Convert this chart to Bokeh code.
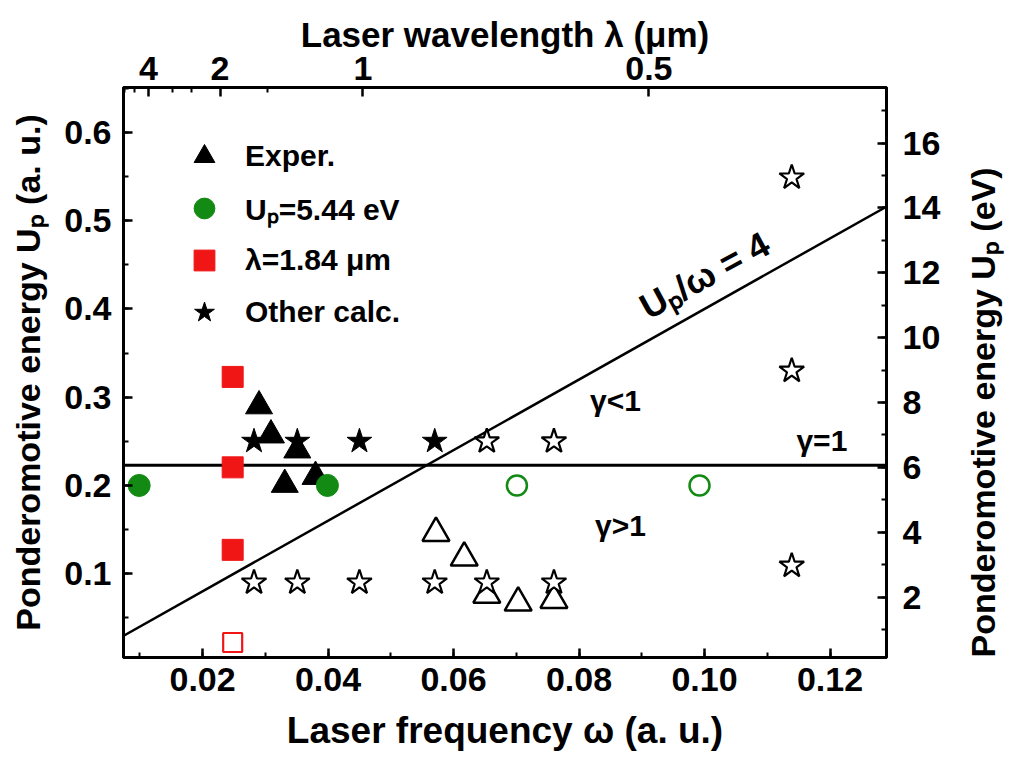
import math
from bokeh.plotting import figure
from bokeh.models import (Range1d, LinearAxis, FixedTicker, SingleIntervalTicker,
                          NumeralTickFormatter, CustomJSTickFormatter, Legend, LegendItem,
                          Span, Slope)
from bokeh.core.properties import value
from bokeh.embed import file_html
from bokeh.resources import INLINE

# ---------------- data ----------------
# experimental points (filled black triangles)
exp_omega = [0.0290, 0.0309, 0.0351, 0.0331, 0.0380]
exp_up = [0.290, 0.257, 0.240, 0.201, 0.210]
# open black triangles
tri_open_omega = [0.0572, 0.0617, 0.0653, 0.0703, 0.0760]
tri_open_up = [0.146, 0.118, 0.076, 0.067, 0.070]
# Up = 5.44 eV (green circles)
green_filled_omega = [0.0099, 0.0399]
green_filled_up = [0.200, 0.200]
green_open_omega = [0.0701, 0.0992]
green_open_up = [0.200, 0.200]
# lambda = 1.84 um (red squares)
red_filled_omega = [0.0248, 0.0248, 0.0248]
red_filled_up = [0.323, 0.2205, 0.127]
red_open_omega = [0.0248]
red_open_up = [0.022]
# other calculations (stars)
star_filled_omega = [0.0282, 0.0351, 0.0450, 0.0570]
star_filled_up = [0.25, 0.25, 0.25, 0.25]
star_open_omega = [0.0653, 0.0760, 0.0282, 0.0351, 0.0450, 0.0570, 0.0653, 0.0760,
                   0.1139, 0.1139, 0.1139]
star_open_up = [0.25, 0.25, 0.09, 0.09, 0.09, 0.09, 0.09, 0.09, 0.549, 0.330, 0.109]

# reference lines
gamma1_up = 0.223          # gamma = 1
up_over_omega = 4          # Up / omega = 4

# top axis: wavelength ticks (um)
lambda_major = [4, 2, 1, 0.5]
lambda_minor = [6, 5, 3, 2.5, 1.5]
OMEGA_TIMES_UM = 0.0455634  # omega (a.u.) * lambda (um)
HARTREE_EV = 27.2114

legend_labels = ["Exper.", "U\u209a=5.44 eV", "\u03bb=1.84 \u03bcm", "Other calc."]
region_texts = ["\u03b3<1", "\u03b3>1", "\u03b3=1"]
region_x = [0.0858, 0.0866, 0.1187]
region_y = [0.296, 0.155, 0.251]
slope_text = ["U\u209a/\u03c9 = 4"]
slope_text_x = [0.1000]
slope_text_y = [0.438]

# ---------------- figure ----------------
FONT = "Liberation Sans"
GREEN = "#138a13"
RED = "#f01616"
X0, X1 = 0.0074, 0.129
Y0, Y1 = 0.005, 0.651

p = figure(width=1024, height=765, x_range=Range1d(X0, X1), y_range=Range1d(Y0, Y1),
           output_backend="svg", toolbar_location=None,
           x_axis_location=None, y_axis_location=None,
           min_border_left=123, min_border_right=137, min_border_top=87, min_border_bottom=108,
           background_fill_color="white", border_fill_color="white",
           outline_line_color="black", outline_line_width=3)
p.xgrid.visible = False
p.ygrid.visible = False
p.extra_y_ranges = {"ev": Range1d(Y0 * HARTREE_EV, Y1 * HARTREE_EV)}


def style(ax, label_size="34px", title_size="34px"):
    ax.axis_line_width = 3
    ax.axis_line_color = "black"
    ax.major_tick_in = 9
    ax.major_tick_out = 0
    ax.minor_tick_in = 5
    ax.minor_tick_out = 0
    ax.major_tick_line_width = 2.5
    ax.minor_tick_line_width = 2
    ax.major_label_text_font = FONT
    ax.major_label_text_font_style = "bold"
    ax.major_label_text_font_size = label_size
    ax.major_label_text_color = "black"
    ax.axis_label_text_font = FONT
    ax.axis_label_text_font_style = "bold"
    ax.axis_label_text_font_size = title_size
    ax.axis_label_text_color = "black"


bottom = LinearAxis(ticker=SingleIntervalTicker(interval=0.02, num_minor_ticks=2),
                    formatter=NumeralTickFormatter(format="0.00"),
                    axis_label="Laser frequency \u03c9 (a. u.)")
style(bottom, title_size="37px")
bottom.major_label_standoff = 10
bottom.axis_label_standoff = 16
p.add_layout(bottom, "below")

left = LinearAxis(ticker=SingleIntervalTicker(interval=0.1, num_minor_ticks=2),
                  formatter=NumeralTickFormatter(format="0.0"),
                  axis_label="Ponderomotive energy U\u209a (a. u.)")
style(left)
left.major_label_standoff = 12
left.axis_label_standoff = 14
p.add_layout(left, "left")

right = LinearAxis(y_range_name="ev",
                   ticker=SingleIntervalTicker(interval=2, num_minor_ticks=2),
                   axis_label="Ponderomotive energy U\u209a (eV)")
style(right)
right.major_label_standoff = 16
right.axis_label_standoff = 40
right.axis_label_orientation = math.pi / 2   # read bottom-to-top, like the reference
right.axis_label_align = "start"
p.add_layout(right, "right")

top = LinearAxis(ticker=FixedTicker(ticks=[OMEGA_TIMES_UM / l for l in lambda_major],
                                    minor_ticks=[OMEGA_TIMES_UM / l for l in lambda_minor]),
                 formatter=CustomJSTickFormatter(args=dict(k=OMEGA_TIMES_UM),
                                                 code="return String(Math.round(k / tick * 10) / 10);"),
                 axis_label="Laser wavelength \u03bb (\u03bcm)")
style(top, label_size="34px", title_size="35px")
top.major_label_standoff = 8
top.axis_label_standoff = 0
p.add_layout(top, "above")

# reference lines (under the markers)
p.add_layout(Span(location=gamma1_up, dimension="width", line_color="black",
                  line_width=3, level="underlay"))
p.add_layout(Slope(gradient=up_over_omega, y_intercept=0, line_color="black",
                   line_width=2.5, level="underlay"))

# markers
p.scatter(tri_open_omega, tri_open_up, marker="triangle", size=27,
          fill_color="white", line_color="black", line_width=2.5)
p.scatter(star_open_omega, star_open_up, marker="star", size=26,
          fill_color="white", line_color="black", line_width=2.2)
r_star = p.scatter(star_filled_omega, star_filled_up, marker="star", size=26,
                   fill_color="black", line_color="black")
r_exp = p.scatter(exp_omega, exp_up, marker="triangle", size=27,
                  fill_color="black", line_color="black")
r_green = p.scatter(green_filled_omega, green_filled_up, marker="circle", size=22,
                    fill_color=GREEN, line_color=GREEN)
p.scatter(green_open_omega, green_open_up, marker="circle", size=20,
          fill_color="white", line_color=GREEN, line_width=2.5)
r_red = p.scatter(red_filled_omega, red_filled_up, marker="square", size=21,
                  fill_color=RED, line_color=RED)
p.scatter(red_open_omega, red_open_up, marker="square", size=19,
          fill_color="white", line_color=RED, line_width=2.2)

# region annotations
p.text(x=region_x, y=region_y, text=region_texts, text_font=value(FONT),
       text_font_style="bold", text_font_size="30px", text_align="center",
       text_baseline="middle", text_color="black")
p.text(x=slope_text_x, y=slope_text_y, text=slope_text, text_font=value(FONT),
       text_font_style="bold", text_font_size="36px", text_align="center",
       text_baseline="middle", text_color="black", angle=0.50)

legend = Legend(items=[LegendItem(label=legend_labels[0], renderers=[r_exp]),
                       LegendItem(label=legend_labels[1], renderers=[r_green]),
                       LegendItem(label=legend_labels[2], renderers=[r_red]),
                       LegendItem(label=legend_labels[3], renderers=[r_star])],
                location=(55, 319), orientation="vertical",
                glyph_width=52, glyph_height=52, label_height=52, spacing=0,
                padding=0, margin=0, label_standoff=15,
                label_text_font=FONT, label_text_font_style="bold",
                label_text_font_size="30px", label_text_color="black",
                background_fill_alpha=0, border_line_alpha=0)
p.add_layout(legend)

open("out.html", "w").write(file_html(p, INLINE))
